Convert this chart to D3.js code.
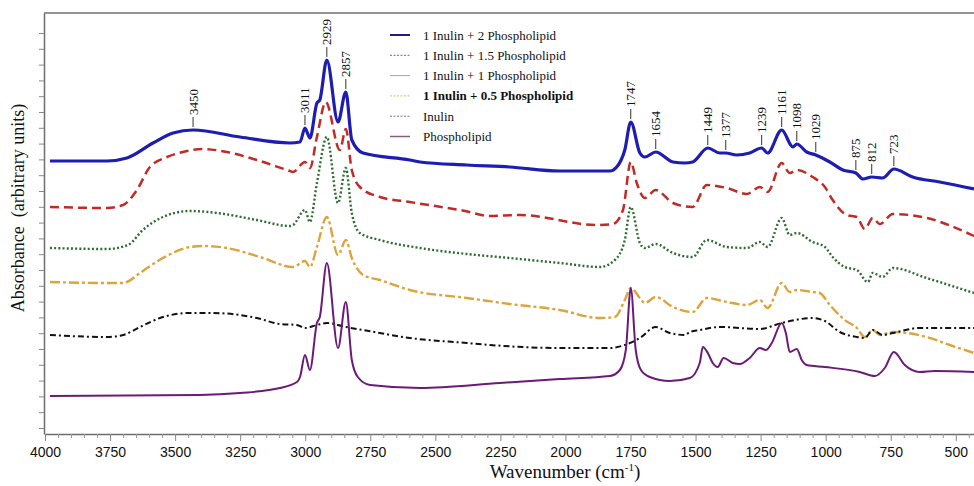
<!DOCTYPE html>
<html>
<head>
<meta charset="utf-8">
<script src="https://cdn.jsdelivr.net/npm/d3@7"></script>
<style>
  body { margin: 0; background: #fff; }
  svg { display: block; }
</style>
</head>
<body>
<div id="chart"></div>
<script>
// spectra, [wavenumber, absorbance (arbitrary units, stacked offset)]
const inulin2PL = [
  [3981,2.73],[3762,2.73],[3685,2.76],[3585,2.91],[3508,3.01],[3431,3.04],[3251,2.97],[3059,2.91],
  [3020,2.92],[3001,3.06],[2982,2.96],[2955,3.31],[2944,3.34],[2917,3.74],[2874,3.12],[2844,3.42],
  [2821,2.94],[2778,2.81],[2598,2.74],[2559,2.72],[2379,2.69],[2214,2.67],[2022,2.63],[1829,2.63],
  [1803,2.67],[1772,2.84],[1749,3.12],[1714,2.81],[1695,2.77],[1653,2.82],[1587,2.72],[1541,2.71],
  [1511,2.72],[1453,2.86],[1407,2.81],[1384,2.81],[1342,2.79],[1292,2.81],[1246,2.86],[1223,2.81],
  [1169,3.04],[1126,2.87],[1111,2.90],[1073,2.82],[1038,2.79],[984,2.72],[934,2.64],[884,2.61],
  [857,2.55],[823,2.57],[781,2.56],[738,2.65],[666,2.57],[562,2.52],[430,2.45]
];
const inulin15PL = [
  [3981,2.27],[3762,2.26],[3700,2.29],[3647,2.44],[3597,2.67],[3531,2.77],[3470,2.82],[3393,2.85],
  [3301,2.82],[3186,2.74],[3059,2.63],[3047,2.62],[3001,2.72],[2982,2.66],[2955,2.97],[2921,3.32],
  [2867,2.84],[2844,3.05],[2821,2.64],[2790,2.47],[2713,2.37],[2598,2.32],[2386,2.23],[2290,2.18],
  [2175,2.19],[1879,2.09],[1818,2.10],[1779,2.24],[1749,2.72],[1726,2.51],[1695,2.36],[1653,2.44],
  [1587,2.31],[1511,2.27],[1457,2.49],[1380,2.46],[1303,2.40],[1253,2.47],[1223,2.42],[1169,2.71],
  [1138,2.61],[1111,2.64],[1050,2.57],[1003,2.47],[973,2.34],[919,2.19],[880,2.17],[850,2.05],
  [819,2.16],[792,2.10],[742,2.20],[612,2.16],[430,1.98]
];
const inulin1PL = [
  [3981,1.86],[3762,1.85],[3681,1.89],[3624,2.04],[3547,2.17],[3443,2.23],[3339,2.21],[3186,2.14],
  [3059,2.08],[3047,2.09],[3001,2.24],[2982,2.12],[2955,2.51],[2917,2.97],[2874,2.31],[2844,2.66],
  [2821,2.21],[2790,2.01],[2713,1.94],[2559,1.86],[2379,1.80],[2214,1.76],[2022,1.71],[1868,1.67],
  [1810,1.74],[1772,1.94],[1749,2.27],[1714,1.91],[1695,1.86],[1653,1.90],[1587,1.81],[1511,1.77],
  [1457,1.94],[1380,1.87],[1303,1.86],[1253,1.92],[1223,1.87],[1169,2.16],[1138,1.99],[1111,2.01],
  [1050,1.92],[1003,1.87],[973,1.77],[927,1.67],[880,1.64],[838,1.52],[819,1.61],[781,1.57],
  [742,1.66],[612,1.56],[430,1.41]
];
const inulin05PL = [
  [3981,1.52],[3762,1.51],[3700,1.51],[3685,1.52],[3635,1.61],[3547,1.76],[3443,1.87],[3393,1.88],
  [3301,1.86],[3174,1.77],[3047,1.67],[3001,1.73],[2982,1.67],[2955,1.87],[2917,2.17],[2874,1.79],
  [2844,1.94],[2821,1.76],[2778,1.59],[2713,1.54],[2598,1.44],[2379,1.36],[2214,1.30],[2022,1.24],
  [1868,1.16],[1810,1.17],[1772,1.34],[1749,1.46],[1714,1.36],[1695,1.31],[1653,1.37],[1587,1.27],
  [1511,1.22],[1457,1.36],[1380,1.32],[1303,1.29],[1253,1.34],[1223,1.26],[1169,1.51],[1138,1.42],
  [1111,1.44],[1050,1.42],[1023,1.41],[984,1.29],[927,1.14],[880,1.06],[850,0.97],[819,1.04],
  [792,0.99],[742,1.02],[612,0.97],[523,0.89],[430,0.81]
];
const inulin = [
  [3981,0.99],[3762,0.97],[3700,0.99],[3635,1.07],[3558,1.16],[3443,1.21],[3355,1.21],[3186,1.16],
  [3097,1.10],[3032,1.09],[3001,1.06],[2955,1.09],[2917,1.11],[2844,1.07],[2778,1.04],[2598,0.96],
  [2379,0.91],[2290,0.89],[2022,0.86],[1829,0.86],[1772,0.89],[1714,0.96],[1653,1.07],[1599,1.01],
  [1541,0.99],[1522,1.02],[1484,1.04],[1407,1.07],[1253,1.05],[1169,1.11],[1050,1.16],[1003,1.13],
  [946,1.02],[880,0.97],[850,0.96],[819,1.04],[781,0.99],[742,1.01],[639,1.06],[430,1.06]
];
const phospholipid = [
  [3981,0.38],[3405,0.39],[3251,0.41],[3097,0.46],[3032,0.52],[3020,0.57],[3001,0.79],[2982,0.64],
  [2955,1.11],[2944,1.17],[2917,1.71],[2874,0.86],[2844,1.32],[2821,0.74],[2798,0.57],[2751,0.49],
  [2559,0.46],[2252,0.51],[2022,0.55],[1829,0.58],[1791,0.64],[1768,0.84],[1749,1.46],[1730,0.84],
  [1710,0.64],[1676,0.57],[1599,0.53],[1522,0.56],[1484,0.71],[1472,0.87],[1453,0.81],[1434,0.71],
  [1415,0.67],[1392,0.76],[1357,0.71],[1330,0.70],[1292,0.76],[1253,0.86],[1230,0.84],[1207,0.91],
  [1169,1.11],[1153,1.01],[1138,0.82],[1111,0.85],[1092,0.74],[1073,0.69],[1003,0.67],[869,0.62],
  [811,0.58],[773,0.66],[738,0.82],[696,0.69],[639,0.62],[581,0.63],[430,0.62]
];

const seriesNames = ["1 Inulin + 2 Phospholipid", "1 Inulin + 1.5 Phospholipid", "1 Inulin + 1 Phospholipid",
  "1 Inulin + 0.5 Phospholipid", "Inulin", "Phospholipid"];

// peak labels on the top spectrum: text and where its tick sits
const peakLabels = ["3450","3011","2929","2857","1747","1654","1449","1377","1239","1161","1098","1029","875","812","723"];
const peakPositions = [3431,3001,2917,2844,1749,1653,1453,1384,1246,1169,1111,1038,884,823,738];

const xMajorTicks = d3.range(4000, 499, -250);
const xMinorTicks = d3.range(4000, 449, -50).filter(d => d % 250 !== 0);
const yTicks = d3.range(0, 26).map(k => 0.06 + 0.158 * k);

const width = 974, height = 486;
const svg = d3.select("#chart").append("svg")
  .attr("width", width).attr("height", height);

const x = d3.scaleLinear().domain([4000, 430]).range([45, 974]);
const y = d3.scaleLinear().domain([0, 4.21]).range([434, 13]);

const styles = [
  { color: "#1d1db4", width: 3.2, dash: null },
  { color: "#c22a26", width: 2.5, dash: "9,5" },
  { color: "#2d6d30", width: 2.4, dash: "2,2.2" },
  { color: "#dca43a", width: 2.4, dash: "10,3,3,3" },
  { color: "#111111", width: 2, dash: "6,3,2,3" },
  { color: "#6c1a78", width: 2, dash: null }
];
const spectra = [inulin2PL, inulin15PL, inulin1PL, inulin05PL, inulin, phospholipid];

// frame
const axisColor = "#6e6e6e";
svg.append("line").attr("x1", 44).attr("x2", 974).attr("y1", 13).attr("y2", 13)
  .attr("stroke", axisColor).attr("stroke-width", 1.5);

// y axis (ticks only)
const yAxis = svg.append("g")
  .attr("transform", "translate(44,0)")
  .call(d3.axisLeft(y).tickValues(yTicks).tickSize(5).tickSizeOuter(0).tickFormat(""));
yAxis.select(".domain").attr("stroke", axisColor).attr("stroke-width", 1.5);
yAxis.selectAll(".tick line").attr("stroke", "#888");

// x axis
const xAxis = svg.append("g")
  .attr("transform", "translate(0,434)")
  .call(d3.axisBottom(x).tickValues(xMajorTicks).tickSize(7).tickSizeOuter(0).tickPadding(6).tickFormat(d3.format("d")));
xAxis.select(".domain").attr("stroke", axisColor).attr("stroke-width", 1.5);
xAxis.selectAll(".tick line").attr("stroke", "#888");
xAxis.selectAll("text")
  .attr("font-family", "'Liberation Sans', Arial, sans-serif")
  .attr("font-size", 14).attr("fill", "#111");

const xMinor = svg.append("g")
  .attr("transform", "translate(0,434)")
  .call(d3.axisBottom(x).tickValues(xMinorTicks).tickSize(4).tickFormat(""));
xMinor.select(".domain").remove();
xMinor.selectAll(".tick line").attr("stroke", "#999");

// spectra
const line = d3.line()
  .x(d => x(d[0]))
  .y(d => y(d[1]))
  .curve(d3.curveMonotoneX);

spectra.forEach((data, i) => {
  svg.append("path")
    .datum(data)
    .attr("fill", "none")
    .attr("stroke", styles[i].color)
    .attr("stroke-width", styles[i].width)
    .attr("stroke-dasharray", styles[i].dash)
    .attr("stroke-linejoin", "round")
    .attr("d", line);
});

// peak labels
const topValue = w => {
  const bis = d3.bisector(d => -d[0]).left;
  const j = bis(inulin2PL, -w);
  return inulin2PL[Math.min(j, inulin2PL.length - 1)][1];
};
peakLabels.forEach((lab, i) => {
  const px = x(peakPositions[i]);
  const py = y(topValue(peakPositions[i]));
  svg.append("line")
    .attr("x1", px).attr("x2", px)
    .attr("y1", py - 3).attr("y2", py - 13)
    .attr("stroke", "#333").attr("stroke-width", 1);
  svg.append("text")
    .attr("transform", `translate(${px + 4.5},${py - 15}) rotate(-90)`)
    .attr("font-family", "'Liberation Serif', 'Times New Roman', serif")
    .attr("font-size", 13)
    .attr("fill", "#111")
    .text(lab);
});

// legend
const legend = svg.append("g").attr("transform", "translate(390,35)");
const legendColors = ["#1d1d80", "#b05050", "#9aaa9a", "#c8c070", "#777777", "#806080"];
const legendDash = [null, "2,1.5", null, "2,1.5", "2,1.5", null];
const legendWidth = [2, 1, 1, 1, 1, 1.5];
seriesNames.forEach((name, i) => {
  const g = legend.append("g").attr("transform", `translate(0,${i * 20.3})`);
  g.append("line")
    .attr("x1", 0).attr("x2", 20).attr("y1", 0).attr("y2", 0)
    .attr("stroke", legendColors[i])
    .attr("stroke-width", legendWidth[i])
    .attr("stroke-dasharray", legendDash[i]);
  g.append("text")
    .attr("x", 33).attr("y", 4.5)
    .attr("font-family", "'Liberation Serif', 'Times New Roman', serif")
    .attr("font-size", 13)
    .attr("font-weight", i === 3 ? "bold" : "normal")
    .attr("fill", "#111")
    .text(name);
});

// axis titles
svg.append("text")
  .attr("transform", "translate(24,208) rotate(-90)")
  .attr("text-anchor", "middle")
  .attr("font-family", "'Liberation Serif', 'Times New Roman', serif")
  .attr("font-size", 18)
  .attr("fill", "#111")
  .attr("xml:space", "preserve")
  .style("white-space", "pre")
  .text("Absorbance  (arbitrary units)");

const xt = svg.append("text")
  .attr("x", 565).attr("y", 478)
  .attr("text-anchor", "middle")
  .attr("font-family", "'Liberation Serif', 'Times New Roman', serif")
  .attr("font-size", 19)
  .attr("fill", "#111");
xt.append("tspan").text("Wavenumber (cm");
xt.append("tspan").attr("dy", -7).attr("font-size", 11).text("-1");
xt.append("tspan").attr("dy", 7).text(")");
</script>
</body>
</html>
